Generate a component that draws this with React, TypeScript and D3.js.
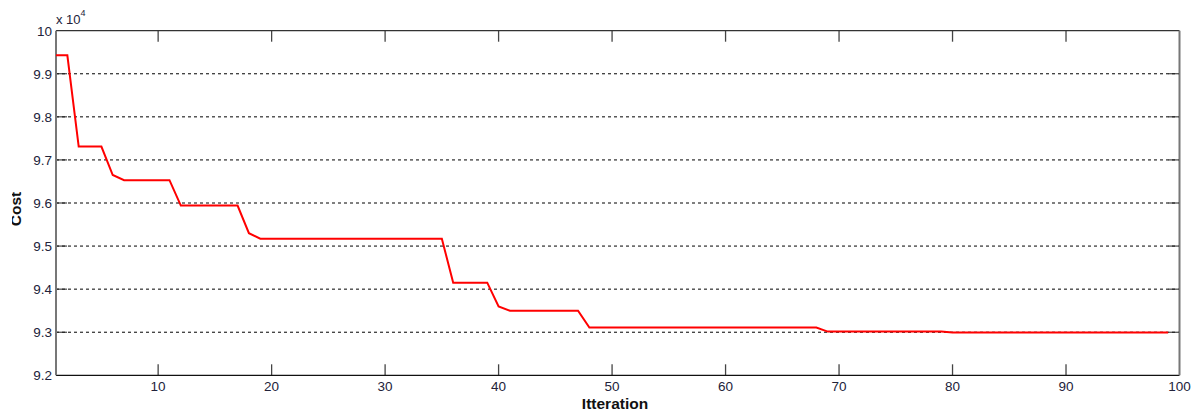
import React from "react";
import { scaleLinear, line } from "d3";

// cost per iteration
const iterations = [
  1, 2, 3, 4, 5, 6, 7, 8, 9, 10, 11, 12, 13, 14, 15, 16, 17, 18, 19, 20,
  21, 22, 23, 24, 25, 26, 27, 28, 29, 30, 31, 32, 33, 34, 35, 36, 37, 38, 39, 40,
  41, 42, 43, 44, 45, 46, 47, 48, 49, 50, 51, 52, 53, 54, 55, 56, 57, 58, 59, 60,
  61, 62, 63, 64, 65, 66, 67, 68, 69, 70, 71, 72, 73, 74, 75, 76, 77, 78, 79, 80,
  81, 82, 83, 84, 85, 86, 87, 88, 89, 90, 91, 92, 93, 94, 95, 96, 97, 98, 99,
];
const cost = [
  99430, 99430, 97310, 97310, 97310, 96650, 96530, 96530, 96530, 96530,
  96530, 95940, 95940, 95940, 95940, 95940, 95940, 95300, 95170, 95170,
  95170, 95170, 95170, 95170, 95170, 95170, 95170, 95170, 95170, 95170,
  95170, 95170, 95170, 95170, 95170, 94150, 94150, 94150, 94150, 93600,
  93500, 93500, 93500, 93500, 93500, 93500, 93500, 93110, 93110, 93110,
  93110, 93110, 93110, 93110, 93110, 93110, 93110, 93110, 93110, 93110,
  93110, 93110, 93110, 93110, 93110, 93110, 93110, 93110, 93015, 93015,
  93015, 93015, 93015, 93015, 93015, 93015, 93015, 93015, 93015, 92995,
  92995, 92995, 92995, 92995, 92995, 92995, 92995, 92995, 92995, 92995,
  92995, 92995, 92995, 92995, 92995, 92995, 92995, 92995, 92995,
];
const xTicks = [10, 20, 30, 40, 50, 60, 70, 80, 90, 100];
const yTicks = [92000, 93000, 94000, 95000, 96000, 97000, 98000, 99000, 100000];

const W = 1195;
const H = 414;
const left = 56, right = 1179.5, top = 30.7, bottom = 375.3;
const font = "Arial, 'Liberation Sans', sans-serif";
const textColor = "#22223a";

export default function App() {
  const x = scaleLinear().domain([1, 100]).range([left, right]);
  const y = scaleLinear().domain([92000, 100000]).range([bottom, top]);

  const pts = iterations.map((it, i) => [it, cost[i]] as [number, number]);
  const path = line<[number, number]>()
    .x(d => x(d[0]))
    .y(d => y(d[1]))(pts);

  const tickLen = 11;

  return (
    <svg
      width={W}
      height={H}
      style={{ position: "absolute", left: 0, top: 0, background: "#fff" }}
    >
      <defs>
        <clipPath id="ylab">
          <rect x={12} y={0} width={40} height={H} />
        </clipPath>
      </defs>
      <rect x={0} y={0} width={W} height={H} fill="#fff" />

      {/* grid */}
      {yTicks.slice(1, -1).map(t => (
        <line
          key={"g" + t}
          x1={left}
          x2={right}
          y1={y(t)}
          y2={y(t)}
          stroke="#000"
          strokeWidth={1}
          strokeDasharray="3,3"
        />
      ))}

      {/* ticks */}
      {yTicks.slice(1, -1).map(t => (
        <g key={"yt" + t}>
          <line x1={left} x2={left + tickLen} y1={y(t)} y2={y(t)} stroke="#222" />
          <line x1={right - tickLen} x2={right} y1={y(t)} y2={y(t)} stroke="#222" />
        </g>
      ))}
      {xTicks.slice(0, -1).map(t => (
        <g key={"xt" + t}>
          <line x1={x(t)} x2={x(t)} y1={bottom} y2={bottom - tickLen} stroke="#444" strokeWidth={1.3} />
          <line x1={x(t)} x2={x(t)} y1={top} y2={top + tickLen} stroke="#444" strokeWidth={1.3} />
        </g>
      ))}

      {/* box */}
      <line x1={left} x2={right} y1={top} y2={top} stroke="#333" strokeWidth={1.3} />
      <line x1={left} x2={right} y1={bottom} y2={bottom} stroke="#111" strokeWidth={1.3} />
      <line x1={left} x2={left} y1={top} y2={bottom} stroke="#777" strokeWidth={2} />
      <line x1={right} x2={right} y1={top} y2={bottom} stroke="#777" strokeWidth={2} />

      {/* series */}
      <path d={path ?? ""} fill="none" stroke="#ff0000" strokeWidth={2} />

      {/* tick labels */}
      {yTicks.map(t => (
        <text
          key={"yl" + t}
          x={left - 4}
          y={y(t) + 5}
          textAnchor="end"
          fontFamily={font}
          fontSize={13.5}
          fill={textColor}
        >
          {t / 10000}
        </text>
      ))}
      {xTicks.map(t => (
        <text
          key={"xl" + t}
          x={x(t)}
          y={391}
          textAnchor="middle"
          fontFamily={font}
          fontSize={13.5}
          fill={textColor}
        >
          {t}
        </text>
      ))}
      <text x={56} y={24} fontFamily={font} fontSize={13} fill={textColor}>
        x 10
        <tspan dy={-8} fontSize={9}>4</tspan>
      </text>

      {/* axis labels */}
      <text
        x={615}
        y={409}
        textAnchor="middle"
        fontFamily={font}
        fontSize={15.5}
        fontWeight="bold"
        fill="#111"
      >
        Itteration
      </text>
      <g clipPath="url(#ylab)">
        <text
          transform="translate(21,209) rotate(-90)"
          textAnchor="middle"
          fontFamily={font}
          fontSize={15.5}
          fontWeight="bold"
          fill="#111"
        >
          Cost
        </text>
      </g>
    </svg>
  );
}
